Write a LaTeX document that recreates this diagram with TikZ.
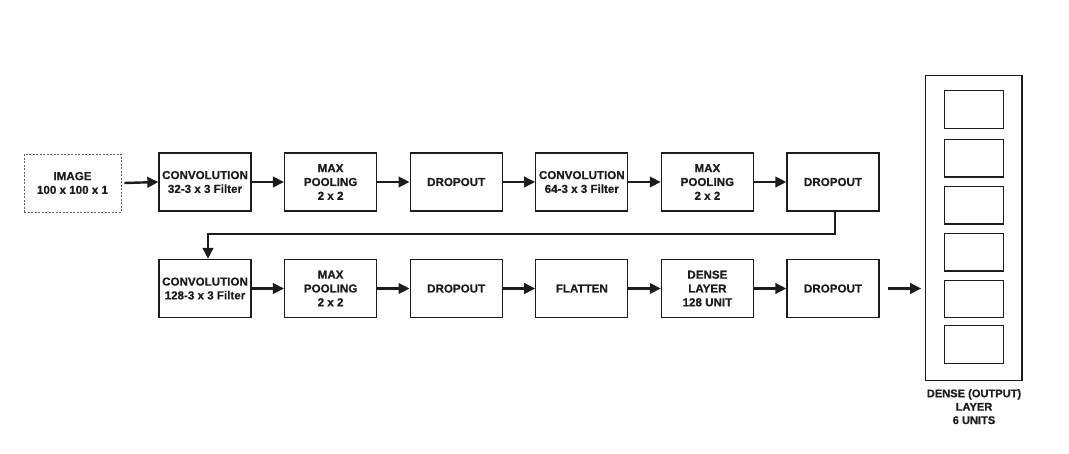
\documentclass[tikz,border=0pt]{standalone}
\usepackage{fontspec}
\setmainfont[BoldFeatures={FakeBold=0.6}]{Liberation Sans}
\usetikzlibrary{arrows.meta}
\definecolor{ink}{HTML}{1C1C1C}
\tikzset{
  layer/.style={draw=ink, line width=1.3pt, minimum width=92pt, minimum height=58pt, inner sep=0pt, align=center, text=ink, font=\fontsize{11.6}{13.8}\selectfont\bfseries},
  inputbox/.style={layer, draw=ink!70, line width=0.7pt, dash pattern=on 2pt off 1.5pt, minimum width=97pt},
  unitbox/.style={draw=ink, line width=1.3pt, minimum width=59pt, minimum height=37.5pt, inner sep=0pt},
  flow/.style={draw=ink, line width=2.4pt, -{Triangle[length=11pt,width=10.5pt]}},
}
\begin{document}
\begin{tikzpicture}[x=1pt,y=-1pt]
\useasboundingbox (0,0) rectangle (1069,453);
% row 1
\node[inputbox] (img) at (72.5,183) {IMAGE\\100 x 100 x 1};
\node[layer] (c1) at (205,182) {CONVOLUTION\\32-3 x 3 Filter};
\node[layer] (p1) at (330.6,182) {MAX\\POOLING\\2 x 2};
\node[layer] (d1) at (456.2,182) {DROPOUT};
\node[layer] (c2) at (581.8,182) {CONVOLUTION\\64-3 x 3 Filter};
\node[layer] (p2) at (707.4,182) {MAX\\POOLING\\2 x 2};
\node[layer] (d2) at (833,182) {DROPOUT};
% row 2
\node[layer] (c3) at (205,288.5) {CONVOLUTION\\128-3 x 3 Filter};
\node[layer] (p3) at (330.6,288.5) {MAX\\POOLING\\2 x 2};
\node[layer] (d3) at (456.2,288.5) {DROPOUT};
\node[layer] (fl) at (581.8,288.5) {FLATTEN};
\node[layer] (dn) at (707.4,288.5) {DENSE\\LAYER\\128 UNIT};
\node[layer] (d4) at (833,288.5) {DROPOUT};
% output layer
\node[draw=ink, line width=1.3pt, minimum width=96.7pt, minimum height=305pt, inner sep=0pt] (out) at (973.7,228.2) {};
\node[unitbox] (u1) at (973.8,109.5) {};
\node[unitbox] (u2) at (973.8,158.2) {};
\node[unitbox] (u3) at (973.8,205.2) {};
\node[unitbox] (u4) at (973.8,252.2) {};
\node[unitbox] (u5) at (973.8,299) {};
\node[unitbox] (u6) at (973.8,344.5) {};
\node[anchor=north, align=center, text=ink, font=\fontsize{11.1}{13.4}\selectfont\bfseries, inner sep=0pt] (lbl) at (974,389) {DENSE (OUTPUT)\\LAYER\\6 UNITS};
% connectors
\draw[flow] ([xshift=3pt]img.east) -- (c1.west);
\draw[flow] (c1) -- (p1);
\draw[flow] (p1) -- (d1);
\draw[flow] (d1) -- (c2);
\draw[flow] (c2) -- (p2);
\draw[flow] (p2) -- (d2);
\coordinate (turnA) at (835,234);
\coordinate (turnB) at (208,234);
\draw[flow] ([xshift=2pt]d2.south) -- (turnA) -- (turnB) -- ([xshift=3pt]c3.north);
\draw[flow] (c3) -- (p3);
\draw[flow] (p3) -- (d3);
\draw[flow] (d3) -- (fl);
\draw[flow] (fl) -- (dn);
\draw[flow] (dn) -- (d4);
\draw[flow, shorten <=8pt, shorten >=3.5pt] (d4.east) -- (d4.east -| out.west);
\end{tikzpicture}
\end{document}
